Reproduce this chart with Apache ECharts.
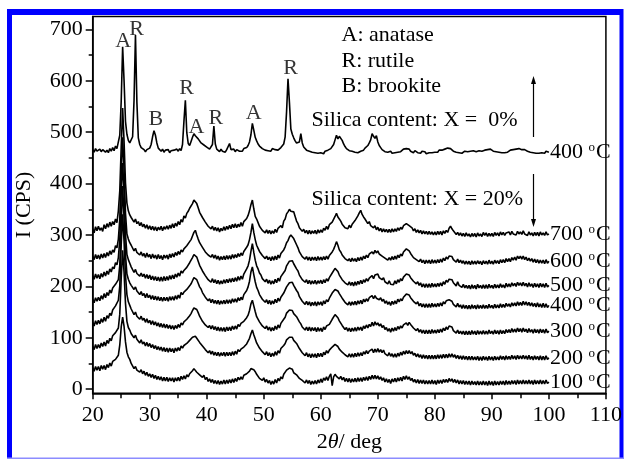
<!DOCTYPE html>
<html>
<head>
<meta charset="utf-8">
<script src="https://cdn.jsdelivr.net/npm/echarts@6/dist/echarts.min.js"></script>
<style>
html, body { margin: 0; padding: 0; background: #fff; }
#chart { width: 625px; height: 460px; }
</style>
</head>
<body>
<div id="chart"></div>
<script>
// XRD scans: 2θ from 20° to 100°, 0.25° per step (one row of four counts per degree)
const scanStart = 20;
const scanStep = 0.25;

// Silica content X = 0 %, calcined at 400 °C
const x0_400C = [
466,461,468,463, 460,467,462,466, 469,461,465,460, 468,463,470,464, 473,468,481,494,
560,666,600,521, 496,484,479,476, 491,562,689,558, 489,476,470,467, 466,462,466,464,
469,476,491,503, 494,479,469,466, 463,467,461,465, 462,466,460,464, 461,465,462,467,
463,468,464,476, 521,562,499,478, 474,482,490,497, 493,495,487,485, 479,482,475,478,
471,474,467,470, 476,512,477,467, 466,462,467,463, 465,461,466,468, 478,466,463,467,
462,466,464,463, 466,463,468,467, 470,474,481,495, 517,504,490,483, 477,473,471,468,
469,465,468,464, 467,463,468,465, 466,469,465,468, 470,473,477,491, 540,604,558,506,
496,489,483,479, 476,481,497,479, 471,468,465,467, 463,465,461,464, 460,463,459,462,
460,462,458,463, 462,465,463,468, 470,476,485,494, 487,492,489,484, 477,472,468,466,
464,461,463,460, 461,464,460,463, 463,466,465,469, 470,474,479,485, 497,492,488,493,
481,474,470,466, 464,462,465,461, 461,463,459,462, 460,463,461,464, 462,465,467,464,
468,465,467,463, 463,460,464,461, 460,462,459,463, 460,462,458,461, 460,463,460,462,
461,464,461,465, 462,465,464,467, 466,469,471,468, 466,463,465,461, 462,460,463,459,
461,463,460,462, 460,463,461,464, 461,462,460,464, 461,463,462,465, 463,466,463,467,
465,463,466,462, 464,461,463,460, 462,460,463,461, 463,465,462,466, 464,467,465,468,
468,466,469,466, 465,463,466,461, 462,460,463,459, 461,459,462,460, 462,459,463,460,
461
];

// Silica content X = 20 %, calcined at 700 °C
const x20_700C = [
312,304,316,308, 317,309,314,307, 320,312,322,315, 325,317,326,320, 331,324,347,386,
471,547,482,401, 362,347,339,334, 333,325,331,322, 326,318,324,316, 321,313,320,311,
318,310,317,309, 316,308,315,310, 317,308,316,311, 318,311,319,313, 322,314,323,317,
326,320,330,325, 337,333,342,346, 352,355,361,368, 371,361,353,344, 342,334,332,325,
324,317,320,312, 317,309,315,308, 314,306,313,308, 316,309,317,311, 319,312,321,314,
322,314,321,316, 324,317,326,323, 332,338,347,359, 368,351,336,331, 324,317,315,309,
312,304,310,303, 309,302,308,303, 311,305,313,310, 318,314,327,331, 341,345,350,346,
349,345,336,327, 322,314,313,307, 311,304,309,302, 309,302,308,303, 309,302,310,304,
310,305,313,309, 317,311,320,318, 325,327,336,342, 335,331,327,321, 320,314,317,312,
319,314,321,318, 328,330,337,343, 348,340,335,331, 329,322,326,318, 321,314,318,310,
315,308,313,306, 312,306,311,305, 311,305,312,306, 312,307,314,309, 315,311,318,316,
322,323,318,316, 314,308,312,305, 310,304,309,302, 308,302,307,301, 307,301,306,300,
306,300,307,301, 307,300,308,303, 309,305,313,317, 312,308,305,301, 305,299,304,298,
303,297,304,298, 302,296,303,297, 303,296,304,298, 302,297,305,299, 304,297,303,298,
303,297,305,299, 304,298,306,300, 305,299,304,301, 306,300,307,302, 305,300,307,302,
306,301,308,302, 305,299,306,300, 304,298,305,299, 305,298,306,300, 304,299,306,300,
302
];

// Silica content X = 20 %, calcined at 600 °C
const x20_600C = [
259,252,262,254, 261,253,263,255, 264,256,266,259, 269,262,271,266, 279,275,292,331,
421,490,427,342, 302,292,285,280, 277,269,274,266, 268,261,267,259, 264,256,265,257,
262,254,263,255, 261,253,262,254, 260,252,261,255, 261,253,263,256, 264,257,266,260,
268,262,271,267, 273,270,279,281, 287,291,298,305, 309,300,292,285, 283,276,274,267,
268,261,264,257, 262,255,261,253, 259,251,258,252, 259,252,260,253, 260,253,262,255,
262,256,264,258, 265,260,268,270, 276,281,291,305, 322,305,291,280, 274,268,266,260,
261,254,259,252, 257,250,258,251, 259,252,261,255, 264,261,271,277, 285,289,296,300,
298,293,290,281, 275,267,264,258, 260,253,258,251, 257,250,257,251, 257,250,258,251,
257,251,258,252, 259,253,260,262, 267,272,279,287, 280,271,267,261, 261,254,257,250,
254,248,255,249, 254,248,256,250, 257,251,259,254, 261,256,263,262, 267,263,270,265,
269,263,266,259, 262,255,258,251, 256,251,258,252, 259,253,261,256, 263,259,267,268,
273,275,269,264, 263,256,259,252, 255,248,253,246, 251,244,251,245, 251,244,252,245,
251,245,252,246, 253,247,255,250, 257,253,259,262, 258,252,253,247, 253,246,251,245,
250,243,249,243, 249,242,250,243, 249,243,250,244, 249,242,250,244, 249,243,251,244,
249,243,251,245, 250,244,252,246, 252,246,254,248, 254,248,256,251, 257,251,259,254,
259,253,259,252, 257,250,255,249, 254,247,253,246, 252,245,251,245, 251,244,252,245,
249
];

// Silica content X = 20 %, calcined at 500 °C
const x20_500C = [
221,214,224,216, 223,215,225,218, 228,220,230,223, 234,228,238,234, 246,242,256,291,
381,440,383,302, 262,252,245,238, 235,227,233,225, 228,220,226,219, 224,216,223,215,
222,213,220,212, 219,211,218,210, 218,210,219,211, 219,212,221,214, 222,215,224,218,
226,220,230,226, 231,231,237,240, 246,249,256,262, 264,257,249,241, 238,230,228,221,
221,213,216,208, 215,207,213,205, 212,204,211,205, 213,206,214,207, 215,208,216,209,
217,210,219,212, 220,214,224,226, 234,240,251,268, 283,266,251,240, 234,226,222,215,
217,209,214,206, 212,204,211,205, 214,207,216,210, 219,216,227,231, 240,243,249,251,
250,244,242,234, 230,222,220,213, 216,208,213,205, 212,204,211,205, 212,204,211,206,
212,205,213,207, 215,210,217,219, 226,229,235,233, 229,222,220,213, 214,207,210,203,
209,202,208,201, 209,202,210,204, 212,205,213,208, 215,210,216,214, 221,215,222,219,
224,217,220,213, 217,209,212,205, 211,204,207,203, 211,205,213,208, 215,211,218,219,
224,226,222,217, 218,210,212,205, 209,202,207,199, 205,198,205,198, 205,198,206,199,
205,199,206,200, 207,201,209,204, 212,208,214,216, 213,207,207,201, 209,202,205,198,
204,197,202,196, 202,195,203,196, 202,195,204,197, 202,196,203,196, 203,196,204,197,
202,196,204,197, 203,197,205,198, 203,197,206,199, 205,199,207,201, 206,200,208,202,
207,201,208,201, 206,199,207,200, 205,198,206,199, 205,198,206,199, 205,198,206,199,
202
];

// Silica content X = 20 %, calcined at 400 °C
const x20_400C = [
175,168,178,171, 179,172,182,175, 186,178,188,182, 193,187,197,194, 204,201,213,241,
321,395,332,262, 224,214,207,202, 202,194,199,191, 191,184,190,182, 186,178,186,178,
183,175,182,174, 181,173,180,172, 179,171,179,172, 179,171,180,173, 180,173,182,175,
183,177,188,184, 189,188,194,197, 201,205,211,217, 219,213,206,199, 195,188,186,179,
180,172,176,168, 175,167,173,166, 173,165,172,166, 173,166,174,167, 174,167,176,169,
176,169,178,172, 179,174,184,186, 192,199,210,228, 238,223,209,198, 192,184,182,175,
177,169,174,166, 173,165,172,166, 175,168,177,171, 179,176,187,190, 199,202,207,209,
208,202,200,192, 188,180,178,171, 173,165,171,164, 170,162,169,163, 170,162,170,164,
170,163,172,166, 174,170,177,180, 187,189,194,196, 191,186,184,177, 177,169,172,164,
170,163,170,164, 171,164,172,166, 173,166,175,170, 176,171,178,175, 182,176,182,177,
180,174,178,171, 175,167,172,165, 170,163,171,165, 172,166,175,170, 176,172,179,181,
185,187,183,178, 179,171,174,166, 170,162,167,160, 166,159,166,159, 166,159,167,160,
166,160,167,161, 168,162,170,166, 172,169,174,173, 171,165,167,160, 167,160,164,157,
164,157,163,156, 163,156,164,157, 163,156,164,157, 163,157,164,157, 163,157,165,158,
163,157,165,158, 164,158,166,159, 165,159,167,161, 166,160,168,162, 168,162,170,163,
169,163,171,164, 170,163,169,162, 168,161,167,160, 168,160,166,159, 167,159,166,159,
163
];

// Silica content X = 20 %, calcined at 300 °C
const x20_300C = [
130,123,133,126, 134,127,137,130, 140,132,143,138, 148,143,154,152, 162,160,173,201,
281,340,287,222, 184,170,163,156, 153,145,150,142, 144,136,142,134, 138,130,137,129,
134,126,133,125, 131,123,129,121, 128,120,127,119, 126,118,125,117, 124,116,124,118,
126,120,129,125, 131,130,136,139, 143,147,153,158, 160,155,149,142, 139,132,132,125,
128,120,124,117, 124,116,122,114, 121,113,120,113, 120,112,121,114, 121,114,123,116,
123,117,126,122, 128,125,132,131, 139,144,153,166, 173,162,151,141, 139,131,130,123,
126,118,123,115, 121,113,120,114, 123,116,125,119, 128,126,136,140, 148,150,154,154,
153,147,148,141, 138,131,127,121, 123,115,121,114, 121,113,120,114, 120,112,120,113,
119,112,121,116, 123,120,126,129, 136,138,145,143, 139,133,130,124, 124,116,120,113,
119,112,119,113, 120,113,121,115, 121,114,123,118, 125,119,126,122, 130,123,131,125,
129,123,127,120, 124,116,120,113, 118,111,119,113, 120,114,122,117, 123,119,125,122,
129,124,130,126, 126,119,121,114, 118,111,116,109, 115,108,115,108, 115,108,116,109,
115,109,116,110, 117,111,119,114, 121,116,123,120, 121,114,116,109, 115,108,113,107,
113,106,113,106, 113,106,114,107, 113,106,114,107, 113,107,114,107, 113,107,115,108,
113,107,115,108, 114,107,115,108, 114,108,116,110, 116,110,118,111, 117,111,119,112,
118,111,119,112, 117,110,118,111, 116,109,117,110, 116,109,117,110, 116,109,117,110,
113
];

// Silica content X = 20 %, calcined at 200 °C
const x20_200C = [
84,77,87,79, 87,80,90,83, 92,84,95,89, 99,94,104,102, 110,108,119,146,
216,270,227,167, 132,120,115,108, 108,100,105,97, 98,90,96,88, 92,84,91,83,
89,81,87,79, 85,77,83,76, 82,74,81,73, 80,72,80,73, 79,71,80,74,
81,75,84,80, 85,83,89,90, 95,95,101,101, 103,99,97,91, 91,84,84,77,
79,71,75,68, 74,66,72,65, 72,64,71,65, 72,64,72,65, 72,65,73,66,
74,68,77,73, 78,75,82,82, 88,91,99,108, 115,106,98,90, 87,80,79,73,
75,67,73,65, 71,63,70,64, 73,66,75,70, 79,77,85,89, 96,97,101,102,
101,95,96,89, 86,79,77,71, 73,65,71,63, 69,61,69,62, 69,61,70,63,
70,63,72,67, 75,70,76,76, 82,81,87,86, 83,78,78,72, 74,67,70,63,
69,62,69,62, 70,63,71,64, 71,65,73,68, 75,69,74,71, 78,71,78,72,
79,72,77,71, 76,69,72,65, 71,64,69,62, 69,62,70,64, 72,66,74,68,
75,69,75,69, 73,66,70,63, 69,62,67,60, 67,60,66,59, 66,59,66,59,
66,59,67,60, 67,60,68,61, 68,61,69,62, 69,62,67,60, 66,59,65,58,
65,58,64,57, 64,57,64,57, 63,57,64,56, 63,56,64,57, 63,56,64,57,
63,56,64,57, 63,57,65,58, 64,57,65,58, 64,58,66,59, 65,58,66,59,
65,59,66,59, 65,58,66,58, 64,57,65,58, 64,57,65,57, 64,57,65,58,
61
];

// Silica content X = 20 %, calcined at 100 °C
const x20_100C = [
42,35,44,37, 44,36,46,39, 46,38,48,42, 51,45,54,51, 58,57,66,86,
121,140,122,92, 72,63,58,50, 47,40,44,37, 40,33,38,30, 35,27,33,25,
30,23,29,21, 27,19,25,18, 24,16,23,16, 23,15,22,16, 22,14,22,16,
23,16,25,19, 26,20,28,24, 30,28,36,40, 37,33,34,28, 31,23,27,19,
23,15,20,13, 19,11,17,10, 17,9,16,10, 18,10,18,11, 19,12,20,13,
21,15,23,18, 24,19,27,25, 30,29,35,40, 43,38,34,29, 29,21,24,17,
22,14,19,12, 17,9,16,10, 19,12,21,16, 24,20,29,30, 37,34,41,38,
39,32,35,28, 29,21,24,17, 20,12,18,11, 17,9,16,10, 17,10,18,12,
20,13,22,17, 24,17,25,30, 7,24,29,25, 27,20,25,18, 23,15,21,14,
21,13,20,14, 21,14,22,15, 22,15,23,17, 24,17,25,19, 27,20,27,20,
26,19,24,17, 22,14,20,13, 19,11,20,14, 21,14,22,16, 23,16,25,19,
26,19,24,17, 21,14,19,12, 19,11,18,11, 18,10,17,10, 17,10,18,10,
17,9,18,11, 18,11,19,13, 19,13,21,15, 20,13,19,12, 18,10,17,10,
17,9,16,9, 16,8,16,9, 15,8,16,8, 15,8,16,8, 15,7,16,8,
15,7,16,8, 15,8,16,9, 16,8,17,9, 16,9,17,10, 17,9,18,10,
17,10,18,10, 17,10,18,10, 17,9,18,10, 17,10,18,10, 17,10,18,11,
14
];

// Scans in drawing order, with the calcination temperature printed at each line end
const scans = [
  { name: 'X = 0%, 400 °C',  temp: '400', counts: x0_400C },
  { name: 'X = 20%, 700 °C', temp: '700', counts: x20_700C },
  { name: 'X = 20%, 600 °C', temp: '600', counts: x20_600C },
  { name: 'X = 20%, 500 °C', temp: '500', counts: x20_500C },
  { name: 'X = 20%, 400 °C', temp: '400', counts: x20_400C },
  { name: 'X = 20%, 300 °C', temp: '300', counts: x20_300C },
  { name: 'X = 20%, 200 °C', temp: '200', counts: x20_200C },
  { name: 'X = 20%, 100 °C', temp: '100', counts: x20_100C }
];

// Phase assignments above the X = 0 % scan: [2θ, intensity, phase letter]
const phasePeaks = [
  [25.36, 676, 'A'],
  [27.70, 700, 'R'],
  [31.08, 525, 'B'],
  [36.46, 585, 'R'],
  [38.21, 510, 'A'],
  [41.59, 527, 'R'],
  [48.24, 536, 'A'],
  [54.72, 624, 'R']
];

const yMajorTicks = [0, 100, 200, 300, 400, 500, 600, 700];
const yMinorTicks = [50, 150, 250, 350, 450, 550, 650];

const FONT = '"Liberation Serif", "Times New Roman", serif';
const FS = 22;

function toPoints(counts) {
  return counts.map((c, i) => [scanStart + i * scanStep, c]);
}

const lineSeries = scans.map(s => ({
  type: 'line',
  name: s.name,
  data: toPoints(s.counts),
  showSymbol: false,
  symbol: 'none',
  clip: false,
  silent: true,
  lineStyle: { color: '#000', width: 1.6 },
  endLabel: {
    show: true,
    distance: 1,
    formatter: '{t|' + s.temp + ' }{o|o}{t|C}',
    rich: {
      t: { fontFamily: FONT, fontSize: FS, color: '#000', lineHeight: 22 },
      o: { fontFamily: FONT, fontSize: 13, color: '#000', verticalAlign: 'top', lineHeight: 22, padding: [0, 1, 0, 0] }
    }
  }
}));

const chart = echarts.init(document.getElementById('chart'), null, { renderer: 'canvas' });

chart.setOption({
  animation: false,
  backgroundColor: '#fff',
  grid: {
    left: 92.7, right: 18.5, top: 16.5, bottom: 66.7,
    show: true, borderColor: '#000', borderWidth: 1.5, backgroundColor: 'transparent'
  },
  xAxis: {
    type: 'value', min: 20, max: 110, interval: 10,
    axisLine: { show: true, onZero: false, lineStyle: { color: '#000', width: 1.5 } },
    axisTick: { show: true, inside: false, length: 6, lineStyle: { color: '#000', width: 1.5 } },
    minorTick: { show: true, splitNumber: 2, length: 5, lineStyle: { color: '#000', width: 1.5 } },
    axisLabel: { fontFamily: FONT, fontSize: FS, color: '#000', margin: 11 },
    splitLine: { show: false },
    name: '2{i|θ}/ deg',
    nameLocation: 'middle',
    nameGap: 28,
    nameTextStyle: {
      fontFamily: FONT, fontSize: FS, color: '#000',
      rich: { i: { fontFamily: FONT, fontSize: FS, fontStyle: 'italic', color: '#000' } }
    }
  },
  yAxis: [
    {
      type: 'value', min: -8, max: 725, position: 'left',
      axisLine: { show: true, lineStyle: { color: '#000', width: 1.5 } },
      axisTick: { show: true, inside: false, length: 7, customValues: yMajorTicks, lineStyle: { color: '#000', width: 1.5 } },
      axisLabel: { customValues: yMajorTicks, fontFamily: FONT, fontSize: FS, color: '#000', margin: 10 },
      splitLine: { show: false },
      name: 'I (CPS)',
      nameLocation: 'middle',
      nameGap: 57,
      nameTextStyle: { fontFamily: FONT, fontSize: FS, color: '#000' }
    },
    {
      type: 'value', min: -8, max: 725, position: 'left',
      axisLine: { show: false },
      axisTick: { show: true, inside: false, length: 4, customValues: yMinorTicks, lineStyle: { color: '#000', width: 1.5 } },
      axisLabel: { show: false },
      splitLine: { show: false }
    }
  ],
  series: lineSeries.concat([{
    type: 'scatter',
    name: 'phases',
    data: phasePeaks,
    symbolSize: 0,
    silent: true,
    label: {
      show: true,
      position: 'inside',
      formatter: p => p.data[2],
      fontFamily: FONT, fontSize: FS, color: '#000'
    }
  }]),
  graphic: [
    // blue frame around the figure
    { type: 'rect', shape: { x: 7, y: 9, width: 616, height: 6 }, style: { fill: '#0000ff' }, silent: true },
    { type: 'rect', shape: { x: 7, y: 9, width: 5, height: 450 }, style: { fill: '#0000ff' }, silent: true },
    { type: 'rect', shape: { x: 619.5, y: 9, width: 4, height: 450 }, style: { fill: '#0000ff' }, silent: true },
    { type: 'rect', shape: { x: 7, y: 457.5, width: 616.5, height: 1.5 }, style: { fill: '#8c8cff' }, silent: true },
    // phase key
    { type: 'text', left: 341.5, top: 24, style: { text: 'A: anatase', font: FS + 'px ' + FONT, fill: '#000' } },
    { type: 'text', left: 341.5, top: 50, style: { text: 'R: rutile', font: FS + 'px ' + FONT, fill: '#000' } },
    { type: 'text', left: 341.5, top: 75.5, style: { text: 'B: brookite', font: FS + 'px ' + FONT, fill: '#000' } },
    // series group captions
    { type: 'text', left: 311.5, top: 109, style: { text: 'Silica content: X =  0%', font: FS + 'px ' + FONT, fill: '#000' } },
    { type: 'text', left: 311.5, top: 188, style: { text: 'Silica content: X = 20%', font: FS + 'px ' + FONT, fill: '#000' } },
    // arrows
    { type: 'line', shape: { x1: 533.5, y1: 137, x2: 533.5, y2: 82 }, style: { stroke: '#000', lineWidth: 1.2 } },
    { type: 'polygon', shape: { points: [[533.5, 76], [531, 84], [536, 84]] }, style: { fill: '#000' } },
    { type: 'line', shape: { x1: 533.5, y1: 174, x2: 533.5, y2: 221 }, style: { stroke: '#000', lineWidth: 1.2 } },
    { type: 'polygon', shape: { points: [[533.5, 227], [531, 219], [536, 219]] }, style: { fill: '#000' } }
  ]
});
</script>
</body>
</html>
